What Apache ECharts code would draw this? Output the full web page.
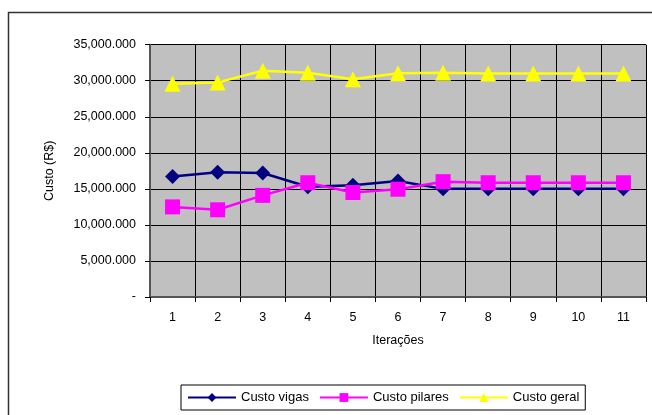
<!DOCTYPE html>
<html>
<head>
<meta charset="utf-8">
<script src="https://cdn.jsdelivr.net/npm/echarts@6/dist/echarts.min.js"></script>
<style>
html,body{margin:0;padding:0;background:#fff;}
#chart{width:652px;height:415px;}
</style>
</head>
<body>
<div id="chart"></div>
<script>
var categories = ['1','2','3','4','5','6','7','8','9','10','11'];
var custoVigas = [16700000, 17300000, 17200000, 15300000, 15500000, 16100000, 15000000, 15000000, 15000000, 15000000, 15000000];
var custoPilares = [12500000, 12100000, 14100000, 15850000, 14500000, 14950000, 16000000, 15850000, 15850000, 15850000, 15850000];
var custoGeral = [29600000, 29750000, 31400000, 31100000, 30200000, 31050000, 31100000, 31000000, 31000000, 31000000, 31000000];
var seriesNames = ['Custo vigas', 'Custo pilares', 'Custo geral'];

function fmt(v) {
  if (v === 0) return '-';
  var s = Number(v).toLocaleString('en-US');
  var i = s.lastIndexOf(',');
  if (i < 0) return s;
  return s.substring(0, i) + '.' + s.substring(i + 1);
}

var font = 'Liberation Sans, Arial, sans-serif';
var fs = 12.5;
var chart = echarts.init(document.getElementById('chart'), null, {renderer: 'canvas'});
chart.setOption({
  animation: false,
  backgroundColor: '#ffffff',
  textStyle: {fontFamily: font},
  graphic: [{
    type: 'rect',
    shape: {x: 8.5, y: 12.5, width: 700, height: 500},
    style: {fill: 'none', stroke: '#333333', lineWidth: 1.5},
    z: 0
  }],
  grid: {
    left: 150, right: 6, top: 44.7, bottom: 118,
    show: true, backgroundColor: '#C0C0C0', borderWidth: 0
  },
  legend: {
    left: 181, top: 385,
    padding: [6, 6],
    borderColor: '#000', borderWidth: 1,
    itemWidth: 48, itemHeight: 11, itemGap: 10,
    textStyle: {fontFamily: font, fontSize: 13, color: '#000'},
    data: seriesNames
  },
  xAxis: {
    type: 'category',
    data: categories,
    boundaryGap: true,
    name: 'Iterações',
    nameLocation: 'middle',
    nameGap: 37,
    nameTextStyle: {fontFamily: font, fontSize: fs, color: '#000'},
    axisLine: {lineStyle: {color: '#555', width: 2}},
    axisTick: {show: true, length: 5, lineStyle: {color: '#000', width: 1}},
    axisLabel: {fontFamily: font, fontSize: fs, color: '#000', margin: 14},
    splitLine: {show: true, lineStyle: {color: '#000', width: 1}}
  },
  yAxis: {
    type: 'value',
    min: 0, max: 35000000, interval: 5000000,
    name: 'Custo (R$)',
    nameLocation: 'middle',
    nameGap: 94,
    nameTextStyle: {fontFamily: font, fontSize: fs, color: '#000'},
    axisLine: {show: true, lineStyle: {color: '#555', width: 2}},
    axisTick: {show: true, length: 5, lineStyle: {color: '#000', width: 1}},
    axisLabel: {fontFamily: font, fontSize: fs, color: '#000', margin: 14, formatter: fmt},
    splitLine: {show: true, lineStyle: {color: '#000', width: 1}}
  },
  series: [
    {
      name: seriesNames[0], type: 'line', data: custoVigas,
      symbol: 'diamond', symbolSize: 15,
      lineStyle: {color: '#000080', width: 2.5},
      itemStyle: {color: '#000080'}, z: 3
    },
    {
      name: seriesNames[1], type: 'line', data: custoPilares,
      symbol: 'rect', symbolSize: 15,
      lineStyle: {color: '#FF00FF', width: 2.5},
      itemStyle: {color: '#FF00FF'}, z: 4
    },
    {
      name: seriesNames[2], type: 'line', data: custoGeral,
      symbol: 'triangle', symbolSize: 16,
      lineStyle: {color: '#FFFF00', width: 2.5},
      itemStyle: {color: '#FFFF00'}, z: 5
    }
  ]
});
</script>
</body>
</html>
